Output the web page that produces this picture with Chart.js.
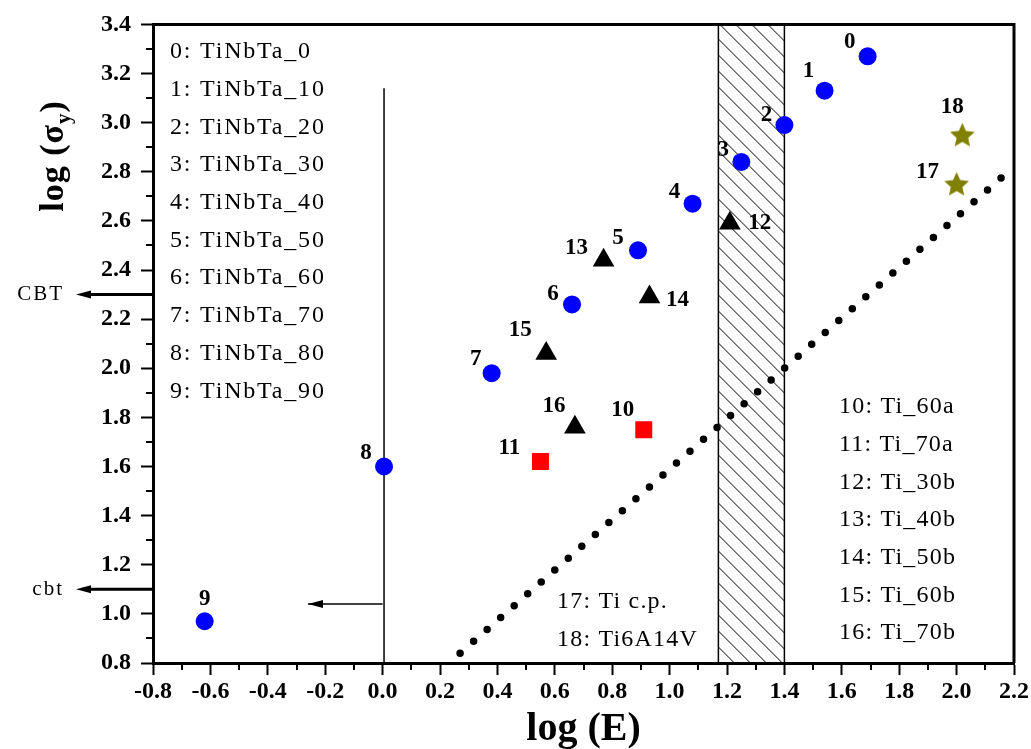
<!DOCTYPE html>
<html>
<head>
<meta charset="utf-8">
<script src="https://cdn.jsdelivr.net/npm/chart.js@4.4.0/dist/chart.umd.min.js"></script>
<style>
  html, body { margin: 0; padding: 0; background: #fff; }
</style>
</head>
<body>
<canvas id="chart" width="1031" height="749"></canvas>
<script>
// TiNbTa series (blue circles)
const tinbtaIds = [0, 1, 2, 3, 4, 5, 6, 7, 8, 9];
const tinbtaLogE = [1.69, 1.54, 1.40, 1.25, 1.08, 0.89, 0.66, 0.38, 0.005, -0.62];
const tinbtaLogS = [3.27, 3.13, 2.99, 2.84, 2.67, 2.48, 2.26, 1.98, 1.60, 0.97];

// Ti_a series (red squares)
const tiAIds = [10, 11];
const tiALogE = [0.91, 0.55];
const tiALogS = [1.75, 1.62];

// Ti_b series (black triangles)
const tiBIds = [12, 13, 14, 15, 16];
const tiBLogE = [1.21, 0.77, 0.93, 0.57, 0.67];
const tiBLogS = [2.59, 2.44, 2.29, 2.06, 1.76];

// reference alloys (olive stars)
const refIds = [17, 18];
const refLogE = [2.00, 2.02];
const refLogS = [2.75, 2.95];

// guide lines
const dotLogE = [0.27, 2.17];
const dotLogS = [0.84, 2.79];
const vLineLogE = [0.005, 0.005];
const vLineLogS = [0.8, 3.14];
const arrowLogE = [0.0, -0.26];
const arrowLogS = [1.04, 1.04];
const bandLogE = [1.17, 1.40];
const bandLabels = ["CBT", "cbt"];
const bandLevels = [2.3, 1.1];

// key texts
const keyLeft = ["0: TiNbTa_0", "1: TiNbTa_10", "2: TiNbTa_20", "3: TiNbTa_30", "4: TiNbTa_40",
  "5: TiNbTa_50", "6: TiNbTa_60", "7: TiNbTa_70", "8: TiNbTa_80", "9: TiNbTa_90"];
const keyRight = ["10: Ti_60a", "11: Ti_70a", "12: Ti_30b", "13: Ti_40b", "14: Ti_50b", "15: Ti_60b", "16: Ti_70b"];
const keyMid = ["17: Ti c.p.", "18: Ti6A14V"];

const serif = '"Liberation Serif", "Times New Roman", serif';

// label offsets (px) from each point
const labelOffsets = {
  0: [-18, -14], 1: [-16, -20], 2: [-18, -10], 3: [-18, -12], 4: [-18, -12],
  5: [-20, -12], 6: [-19, -10], 7: [-16, -14], 8: [-18, -13], 9: [0, -22],
  10: [-21, -20], 11: [-31, -14], 12: [30, 0], 13: [-27, -12], 14: [28, 3],
  15: [-26, -23], 16: [-21, -21], 17: [-29, -12], 18: [-10, -28]
};

function pts(xs, ys) {
  return xs.map((x, i) => ({ x: x, y: ys[i] }));
}

function starImage(size, color) {
  const c = document.createElement('canvas');
  c.width = size; c.height = size;
  const g = c.getContext('2d');
  const cx = size / 2, cy = size / 2 + 1, R = size / 2 - 0.5, r = R * 0.47;
  g.beginPath();
  for (let i = 0; i < 10; i++) {
    const a = -Math.PI / 2 + i * Math.PI / 5;
    const rr = i % 2 ? r : R;
    g.lineTo(cx + rr * Math.cos(a), cy + rr * Math.sin(a));
  }
  g.closePath();
  g.fillStyle = color;
  g.fill();
  return c;
}

function arrowHead(ctx, tipX, y, len, half) {
  ctx.beginPath();
  ctx.moveTo(tipX, y);
  ctx.lineTo(tipX + len, y - half);
  ctx.lineTo(tipX + len, y + half);
  ctx.closePath();
  ctx.fill();
}

const tickFmt = v => (Math.abs(v) < 1e-9 ? '0.0' : v.toFixed(1));

const decor = {
  id: 'decor',
  beforeDatasetsDraw(chart) {
    const { ctx, chartArea: a, scales: { x } } = chart;
    const x0 = x.getPixelForValue(bandLogE[0]);
    const x1 = x.getPixelForValue(bandLogE[1]);
    const h = a.bottom - a.top;
    ctx.save();
    ctx.beginPath();
    ctx.rect(x0, a.top, x1 - x0, h);
    ctx.clip();
    ctx.strokeStyle = '#000';
    ctx.lineWidth = 1;
    for (let k = -h; k < x1 - x0; k += 16) {
      ctx.beginPath();
      ctx.moveTo(x0 + k, a.top);
      ctx.lineTo(x0 + k + h, a.top + h);
      ctx.stroke();
    }
    ctx.restore();
    ctx.save();
    ctx.strokeStyle = '#000';
    ctx.lineWidth = 1.5;
    ctx.strokeRect(x0, a.top, x1 - x0, h);
    ctx.restore();
  },
  afterDatasetsDraw(chart) {
    const { ctx, scales: { x, y } } = chart;
    ctx.save();
    ctx.fillStyle = '#000';
    arrowHead(ctx, x.getPixelForValue(arrowLogE[1]), y.getPixelForValue(arrowLogS[1]), 15, 4);
    // point labels
    ctx.font = 'bold 23px ' + serif;
    ctx.textAlign = 'center';
    ctx.textBaseline = 'middle';
    chart.data.datasets.forEach((ds, di) => {
      if (!ds.ids) return;
      const meta = chart.getDatasetMeta(di);
      meta.data.forEach((el, i) => {
        const off = labelOffsets[ds.ids[i]];
        ctx.fillText(String(ds.ids[i]), el.x + off[0], el.y + off[1]);
      });
    });
    ctx.restore();
  },
  afterDraw(chart) {
    const { ctx, chartArea: a, scales: { x, y } } = chart;
    ctx.save();
    ctx.strokeStyle = '#000';
    ctx.fillStyle = '#000';
    // frame top / right
    ctx.lineWidth = 3;
    ctx.beginPath();
    ctx.moveTo(a.left, a.top);
    ctx.lineTo(a.right, a.top);
    ctx.lineTo(a.right, a.bottom);
    ctx.stroke();
    // minor ticks
    ctx.lineWidth = 2;
    for (let v = -0.7; v < 2.2; v += 0.2) {
      const px = Math.round(x.getPixelForValue(v));
      ctx.beginPath(); ctx.moveTo(px, a.bottom); ctx.lineTo(px, a.bottom + 7); ctx.stroke();
    }
    for (let v = 0.9; v < 3.4; v += 0.2) {
      const py = Math.round(y.getPixelForValue(v));
      ctx.beginPath(); ctx.moveTo(a.left, py); ctx.lineTo(a.left - 7, py); ctx.stroke();
    }
    // CBT / cbt arrows
    ctx.lineWidth = 3;
    ctx.font = '21px ' + serif;
    ctx.letterSpacing = '2px';
    ctx.textAlign = 'right';
    ctx.textBaseline = 'middle';
    bandLevels.forEach((lv, i) => {
      const py = y.getPixelForValue(lv);
      ctx.beginPath(); ctx.moveTo(a.left, py); ctx.lineTo(82, py); ctx.stroke();
      arrowHead(ctx, 76, py, 15, 4);
      ctx.fillText(bandLabels[i], 64, py);
    });
    // keys
    ctx.textAlign = 'left';
    ctx.font = '24px ' + serif;
    ctx.letterSpacing = '1.8px';
    keyLeft.forEach((t, i) => ctx.fillText(t, 170, 52 + i * 37.7));
    ctx.letterSpacing = '1.2px';
    keyRight.forEach((t, i) => ctx.fillText(t, 839, 407 + i * 37.7));
    keyMid.forEach((t, i) => ctx.fillText(t, 557, 602 + i * 37.7));
    // y title with subscript
    ctx.letterSpacing = '1px';
    ctx.translate(52, 156);
    ctx.rotate(-Math.PI / 2);
    ctx.textAlign = 'left';
    ctx.textBaseline = 'alphabetic';
    ctx.font = 'bold 34px ' + serif;
    const p1 = 'log (\u03c3';
    const w1 = ctx.measureText(p1).width;
    ctx.font = 'bold 21px ' + serif;
    const w2 = ctx.measureText('y').width;
    ctx.font = 'bold 34px ' + serif;
    const w3 = ctx.measureText(')').width;
    const total = w1 + w2 + w3;
    let cx = -total / 2;
    const base = 11;
    ctx.fillText(p1, cx, base);
    cx += w1;
    ctx.font = 'bold 21px ' + serif;
    ctx.fillText('y', cx, base + 7);
    cx += w2;
    ctx.font = 'bold 34px ' + serif;
    ctx.fillText(')', cx, base);
    ctx.restore();
  }
};

new Chart(document.getElementById('chart'), {
  type: 'scatter',
  data: {
    datasets: [
      { data: pts(tinbtaLogE, tinbtaLogS), ids: tinbtaIds, pointStyle: 'circle', pointRadius: 9,
        backgroundColor: '#0000ff', borderColor: '#0000ff', borderWidth: 0, order: 1 },
      { data: pts(tiALogE, tiALogS), ids: tiAIds, pointStyle: 'rect', pointRadius: 12,
        backgroundColor: '#ff0000', borderColor: '#ff0000', borderWidth: 0, order: 1 },
      { data: pts(tiBLogE, tiBLogS), ids: tiBIds, pointStyle: 'triangle', pointRadius: 12.5,
        backgroundColor: '#000', borderColor: '#000', borderWidth: 0, order: 1 },
      { data: pts(refLogE, refLogS), ids: refIds, pointStyle: starImage(27, '#808000'), pointRadius: 13,
        backgroundColor: '#808000', order: 1 },
      { data: pts(dotLogE, dotLogS), showLine: true, pointRadius: 0, borderColor: '#000',
        borderWidth: 7.5, borderDash: [0, 18], borderCapStyle: 'round', order: 5 },
      { data: pts(vLineLogE, vLineLogS), showLine: true, pointRadius: 0, borderColor: '#000',
        borderWidth: 1.5, order: 5 },
      { data: pts(arrowLogE, arrowLogS), showLine: true, pointRadius: 0, borderColor: '#000',
        borderWidth: 1.5, order: 5 }
    ]
  },
  options: {
    responsive: false,
    animation: false,
    devicePixelRatio: 1,
    layout: { padding: { top: 22, right: 16, left: 0, bottom: 0 } },
    plugins: { legend: { display: false }, tooltip: { enabled: false } },
    scales: {
      x: {
        type: 'linear', min: -0.8, max: 2.2,
        afterFit: s => { s.height = 86; },
        ticks: { stepSize: 0.2, callback: tickFmt, color: '#000', padding: 2, maxRotation: 0, autoSkip: false,
          font: { family: serif, size: 24, weight: 'bold' } },
        grid: { drawOnChartArea: false, drawTicks: true, tickLength: 12, tickWidth: 2, tickColor: '#000' },
        border: { display: true, color: '#000', width: 3 },
        title: { display: true, text: 'log (E)', color: '#000', padding: { top: 0, bottom: 0 },
          font: { family: serif, size: 40, weight: 'bold', lineHeight: 0.95 } }
      },
      y: {
        type: 'linear', min: 0.8, max: 3.4,
        afterFit: s => { s.width = 153; },
        ticks: { stepSize: 0.2, callback: tickFmt, color: '#000', padding: 10, autoSkip: false,
          font: { family: serif, size: 24, weight: 'bold' } },
        grid: { drawOnChartArea: false, drawTicks: true, tickLength: 12, tickWidth: 2, tickColor: '#000' },
        border: { display: true, color: '#000', width: 3 }
      }
    }
  },
  plugins: [decor]
});
</script>
</body>
</html>
